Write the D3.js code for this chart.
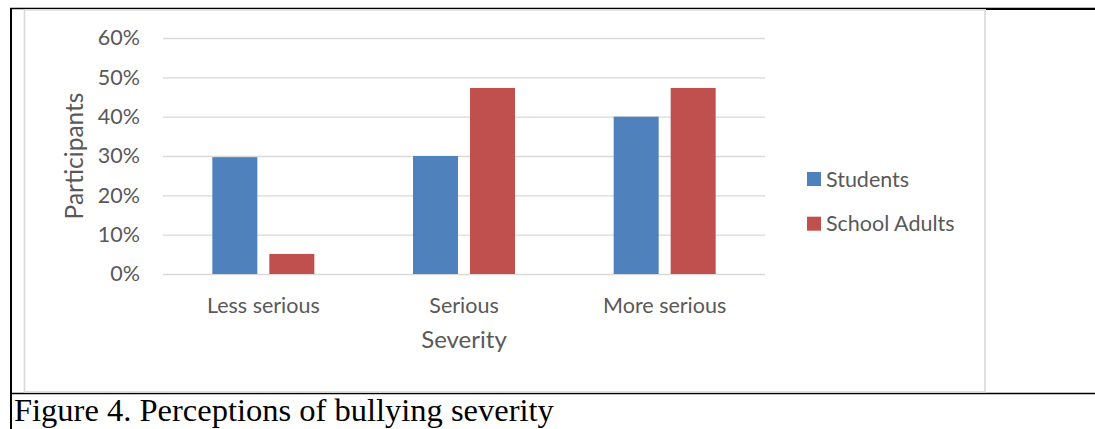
<!DOCTYPE html>
<html>
<head>
<meta charset="utf-8">
<script src="https://cdn.jsdelivr.net/npm/d3@7"></script>
<style>
  html, body { margin: 0; padding: 0; background: #fff; }
  svg { display: block; }
</style>
</head>
<body>
<svg id="chart" width="1095" height="429"></svg>
<script>
// Share of participants rating each bullying scenario's severity
const categories = ["Less serious", "Serious", "More serious"];
const seriesNames = ["Students", "School Adults"];
const studentsValues = [0.297, 0.300, 0.400];
const adultsValues = [0.051, 0.473, 0.473];
const yTicks = [0, 0.1, 0.2, 0.3, 0.4, 0.5, 0.6];
const colors = ["#4f81bd", "#c0504d"];

const svg = d3.select("#chart");
const sansFont = "Lato, 'Open Sans', sans-serif";
const textGray = "#595959";
const gridGray = "#d9d9d9";

// Table cell borders around the figure and its caption
svg.append("line").attr("x1", 10).attr("x2", 1095).attr("y1", 8.5).attr("y2", 8.5)
  .attr("stroke", "#000").attr("stroke-width", 1.5);
svg.append("line").attr("x1", 986).attr("x2", 1095).attr("y1", 9.3).attr("y2", 9.3)
  .attr("stroke", "#000").attr("stroke-width", 1.5);
svg.append("line").attr("x1", 11).attr("x2", 11).attr("y1", 8).attr("y2", 429)
  .attr("stroke", "#000").attr("stroke-width", 2);
svg.append("line").attr("x1", 10).attr("x2", 1095).attr("y1", 393.5).attr("y2", 393.5)
  .attr("stroke", "#000").attr("stroke-width", 1.5);

// Chart area frame
svg.append("rect")
  .attr("x", 24.5).attr("y", 9.8).attr("width", 960.5).attr("height", 382.2)
  .attr("fill", "#fff").attr("stroke", gridGray).attr("stroke-width", 1.6);

// Scales
const plotLeft = 163, plotRight = 765;
const y = d3.scaleLinear().domain([0, 0.6]).range([274, 38]);
const x0 = d3.scaleBand().domain(categories).range([plotLeft, plotRight])
  .paddingInner(0.4917).paddingOuter(0.4917 / 2);
const x1 = d3.scaleBand().domain(seriesNames).range([0, x0.bandwidth()])
  .paddingInner(0.2105).paddingOuter(0);

// Gridlines
const grid = svg.append("g")
  .attr("transform", `translate(${plotLeft},0)`)
  .call(d3.axisLeft(y).tickValues(yTicks).tickSize(-(plotRight - plotLeft)).tickFormat(""));
grid.select(".domain").remove();
grid.selectAll(".tick line").attr("stroke", gridGray).attr("stroke-width", 1.4);

// Y tick labels
const yAxis = svg.append("g")
  .attr("transform", `translate(${plotLeft},0)`)
  .call(d3.axisLeft(y).tickValues(yTicks).tickSize(0).tickPadding(23).tickFormat(d3.format(".0%")));
yAxis.select(".domain").remove();
yAxis.selectAll("text")
  .attr("font-family", sansFont).attr("font-size", 21.5).attr("fill", textGray);

// Bars
const rows = categories.map((c, i) => ({
  category: c,
  values: [
    { series: seriesNames[0], value: studentsValues[i], color: colors[0] },
    { series: seriesNames[1], value: adultsValues[i], color: colors[1] }
  ]
}));

const groups = svg.append("g").selectAll("g")
  .data(rows).join("g")
  .attr("transform", d => `translate(${x0(d.category)},0)`);

groups.selectAll("rect")
  .data(d => d.values).join("rect")
  .attr("x", d => x1(d.series))
  .attr("width", x1.bandwidth())
  .attr("y", d => y(d.value))
  .attr("height", d => y(0) - y(d.value))
  .attr("fill", d => d.color);

// Category labels
const xAxis = svg.append("g")
  .attr("transform", `translate(0,${y(0)})`)
  .call(d3.axisBottom(x0).tickSize(0).tickPadding(24));
xAxis.select(".domain").remove();
xAxis.selectAll("text")
  .attr("font-family", sansFont).attr("font-size", 21.5).attr("fill", textGray);

// Axis titles
svg.append("text")
  .attr("x", (plotLeft + plotRight) / 2).attr("y", 348)
  .attr("text-anchor", "middle")
  .attr("font-family", sansFont).attr("font-size", 24).attr("fill", textGray)
  .text("Severity");

svg.append("text")
  .attr("transform", "translate(83,156) rotate(-90)")
  .attr("text-anchor", "middle")
  .attr("font-family", sansFont).attr("font-size", 24.5).attr("fill", textGray)
  .text("Participants");

// Legend
const legend = svg.append("g").selectAll("g")
  .data(seriesNames).join("g")
  .attr("transform", (d, i) => `translate(807,${172 + i * 44.7})`);
legend.append("rect")
  .attr("width", 14).attr("height", 14)
  .attr("fill", (d, i) => colors[i]);
legend.append("text")
  .attr("x", 19).attr("y", 7).attr("dy", "0.35em")
  .attr("font-family", sansFont).attr("font-size", 21.5).attr("fill", textGray)
  .text(d => d);

// Caption
svg.append("text")
  .attr("x", 14).attr("y", 421)
  .attr("font-family", "'Liberation Serif', 'Times New Roman', serif")
  .attr("font-size", 32.5).attr("fill", "#000")
  .text("Figure 4. Perceptions of bullying severity");
</script>
</body>
</html>
